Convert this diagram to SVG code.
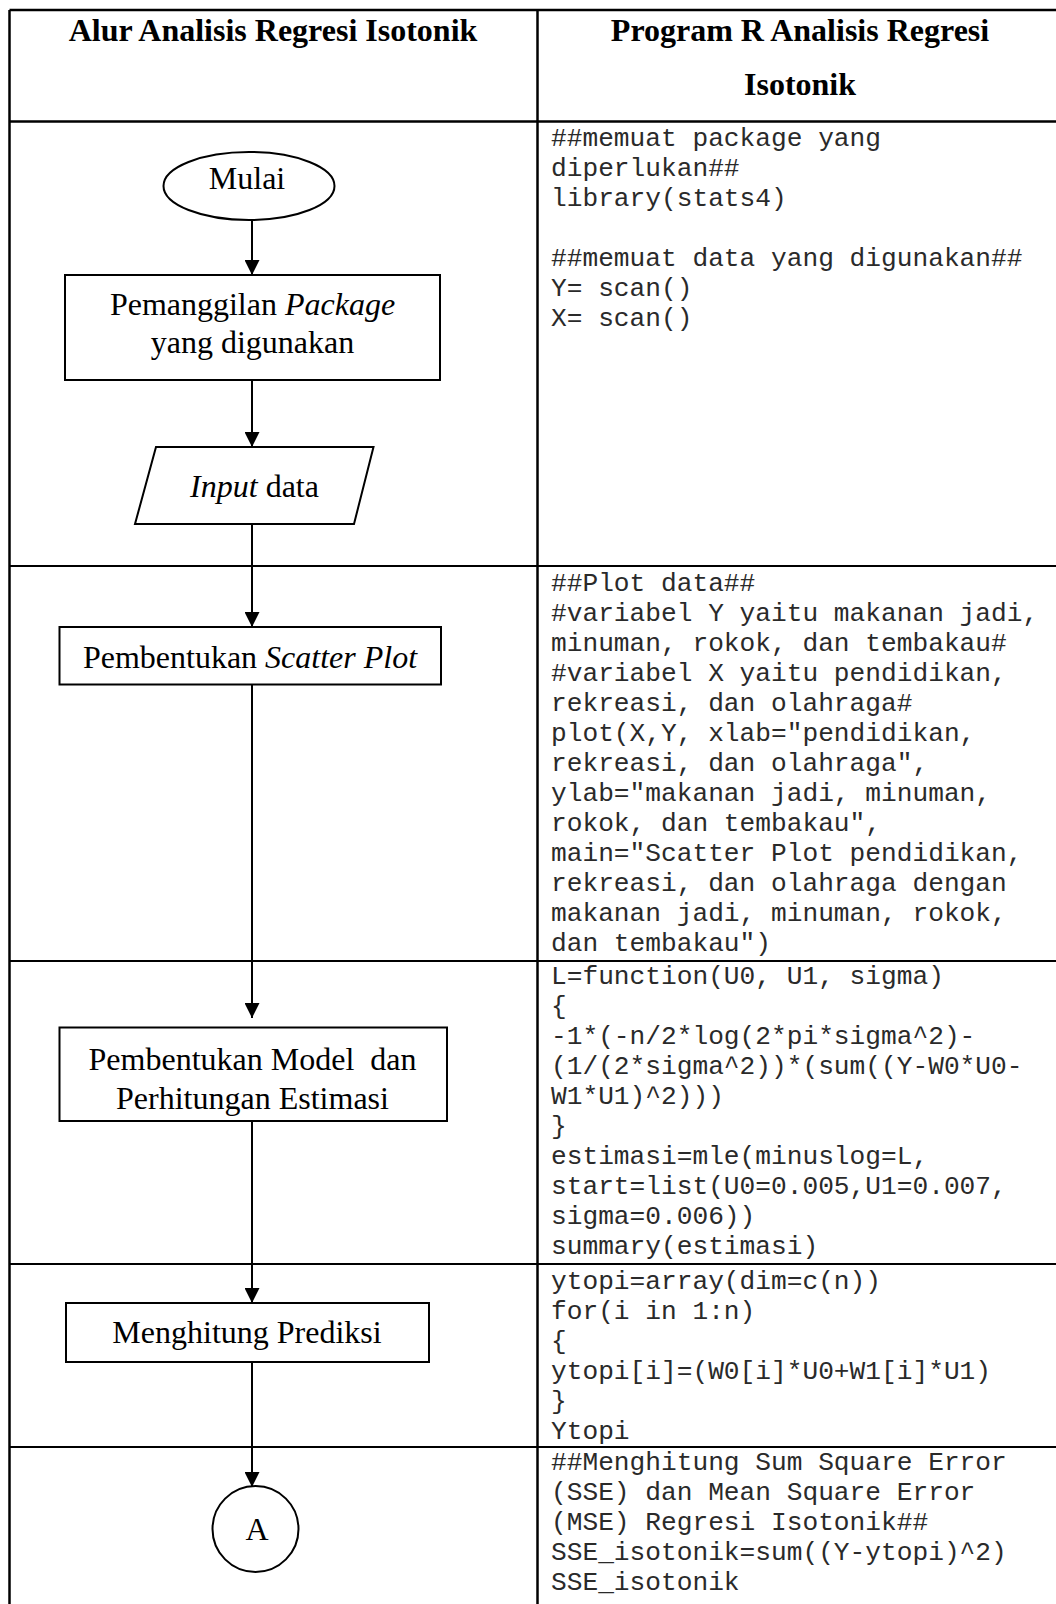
<svg xmlns="http://www.w3.org/2000/svg" width="1056" height="1604" viewBox="0 0 1056 1604">
<style>
.hdr{font-family:"Liberation Serif","Times New Roman",serif;font-weight:bold;font-size:32px;fill:#000;text-anchor:middle}
.lbl{font-family:"Liberation Serif","Times New Roman",serif;font-size:32px;fill:#000;text-anchor:middle}
.it{font-style:italic}
.code{font-family:"Liberation Mono","Courier New",monospace;font-size:26.2px;fill:#2a2a2a;white-space:pre}
.shape{fill:#fff;stroke:#000;stroke-width:2}
.grid{stroke:#000;stroke-width:2.5;fill:none}
.row{stroke:#000;stroke-width:2;fill:none}
.conn{stroke:#000;stroke-width:2;fill:none}
</style>
<defs>
<marker id="arrow" markerWidth="15" markerHeight="15" refX="15" refY="7.5" orient="auto" markerUnits="userSpaceOnUse">
<path d="M0,0 L15,7.5 L0,15 Z" fill="#000"/>
</marker>
</defs>
<rect x="0" y="0" width="1056" height="1604" fill="#fff"/>
<g id="table">
<line class="grid" x1="9.5" y1="10" x2="1056" y2="10"/>
<line class="grid" x1="9.5" y1="10" x2="9.5" y2="1604"/>
<line class="grid" x1="537.5" y1="10" x2="537.5" y2="1604"/>
<line class="grid" x1="9.5" y1="121.5" x2="1056" y2="121.5"/>
<line class="row" x1="9.5" y1="566" x2="1056" y2="566"/>
<line class="row" x1="9.5" y1="961" x2="1056" y2="961"/>
<line class="row" x1="9.5" y1="1264" x2="1056" y2="1264"/>
<line class="row" x1="9.5" y1="1447" x2="1056" y2="1447"/>
</g>
<g id="header">
<text class="hdr" x="273" y="41">Alur Analisis Regresi Isotonik</text>
<text class="hdr" x="800" y="41">Program R Analisis Regresi</text>
<text class="hdr" x="800" y="95">Isotonik</text>
</g>
<g id="connectors">
<line class="conn" x1="252" y1="220" x2="252" y2="275" marker-end="url(#arrow)"/>
<line class="conn" x1="252" y1="380" x2="252" y2="447" marker-end="url(#arrow)"/>
<line class="conn" x1="252" y1="524" x2="252" y2="627" marker-end="url(#arrow)"/>
<line class="conn" x1="252" y1="684.5" x2="252" y2="1018" marker-end="url(#arrow)"/>
<line class="conn" x1="252" y1="1121" x2="252" y2="1303" marker-end="url(#arrow)"/>
<line class="conn" x1="252" y1="1362" x2="252" y2="1487" marker-end="url(#arrow)"/>
</g>
<g id="node-mulai">
<ellipse class="shape" cx="249" cy="186" rx="85.5" ry="34"/>
<text class="lbl" x="247" y="189">Mulai</text>
</g>
<g id="node-package">
<rect class="shape" x="65" y="275" width="375" height="105"/>
<text class="lbl" x="252.5" y="315">Pemanggilan <tspan class="it">Package</tspan></text>
<text class="lbl" x="252.5" y="353">yang digunakan</text>
</g>
<g id="node-input">
<polygon class="shape" points="156,447 373.5,447 354,524 135,524"/>
<text class="lbl" x="254.5" y="497"><tspan class="it">Input</tspan> data</text>
</g>
<g id="node-scatter">
<rect class="shape" x="59.5" y="627" width="381.5" height="57.5"/>
<text class="lbl" x="250" y="667.5">Pembentukan <tspan class="it">Scatter Plot</tspan></text>
</g>
<g id="node-model">
<rect class="shape" x="59.5" y="1027.5" width="387.5" height="93.5"/>
<text class="lbl" x="252.5" y="1070" xml:space="preserve">Pembentukan Model  dan</text>
<text class="lbl" x="252.5" y="1109">Perhitungan Estimasi</text>
</g>
<g id="node-prediksi">
<rect class="shape" x="66" y="1303" width="363" height="59"/>
<text class="lbl" x="247" y="1343">Menghitung Prediksi</text>
</g>
<g id="node-a">
<circle class="shape" cx="255.5" cy="1529" r="43"/>
<text class="lbl" x="257" y="1539.5">A</text>
</g>
<g id="code-1">
<text class="code" x="551" y="146">##memuat package yang</text>
<text class="code" x="551" y="176">diperlukan##</text>
<text class="code" x="551" y="206">library(stats4)</text>
<text class="code" x="551" y="266">##memuat data yang digunakan##</text>
<text class="code" x="551" y="296">Y= scan()</text>
<text class="code" x="551" y="326">X= scan()</text>
</g>
<g id="code-2">
<text class="code" x="551" y="591">##Plot data##</text>
<text class="code" x="551" y="621">#variabel Y yaitu makanan jadi,</text>
<text class="code" x="551" y="651">minuman, rokok, dan tembakau#</text>
<text class="code" x="551" y="681">#variabel X yaitu pendidikan,</text>
<text class="code" x="551" y="711">rekreasi, dan olahraga#</text>
<text class="code" x="551" y="741">plot(X,Y, xlab="pendidikan,</text>
<text class="code" x="551" y="771">rekreasi, dan olahraga",</text>
<text class="code" x="551" y="801">ylab="makanan jadi, minuman,</text>
<text class="code" x="551" y="831">rokok, dan tembakau",</text>
<text class="code" x="551" y="861">main="Scatter Plot pendidikan,</text>
<text class="code" x="551" y="891">rekreasi, dan olahraga dengan</text>
<text class="code" x="551" y="921">makanan jadi, minuman, rokok,</text>
<text class="code" x="551" y="951">dan tembakau")</text>
</g>
<g id="code-3">
<text class="code" x="551" y="984">L=function(U0, U1, sigma)</text>
<text class="code" x="551" y="1014">{</text>
<text class="code" x="551" y="1044">-1*(-n/2*log(2*pi*sigma^2)-</text>
<text class="code" x="551" y="1074">(1/(2*sigma^2))*(sum((Y-W0*U0-</text>
<text class="code" x="551" y="1104">W1*U1)^2)))</text>
<text class="code" x="551" y="1134">}</text>
<text class="code" x="551" y="1164">estimasi=mle(minuslog=L,</text>
<text class="code" x="551" y="1194">start=list(U0=0.005,U1=0.007,</text>
<text class="code" x="551" y="1224">sigma=0.006))</text>
<text class="code" x="551" y="1254">summary(estimasi)</text>
</g>
<g id="code-4">
<text class="code" x="551" y="1288.5">ytopi=array(dim=c(n))</text>
<text class="code" x="551" y="1318.5">for(i in 1:n)</text>
<text class="code" x="551" y="1348.5">{</text>
<text class="code" x="551" y="1378.5">ytopi[i]=(W0[i]*U0+W1[i]*U1)</text>
<text class="code" x="551" y="1408.5">}</text>
<text class="code" x="551" y="1438.5">Ytopi</text>
</g>
<g id="code-5">
<text class="code" x="551" y="1470">##Menghitung Sum Square Error</text>
<text class="code" x="551" y="1500">(SSE) dan Mean Square Error</text>
<text class="code" x="551" y="1530">(MSE) Regresi Isotonik##</text>
<text class="code" x="551" y="1560">SSE_isotonik=sum((Y-ytopi)^2)</text>
<text class="code" x="551" y="1590">SSE_isotonik</text>
</g>
</svg>
